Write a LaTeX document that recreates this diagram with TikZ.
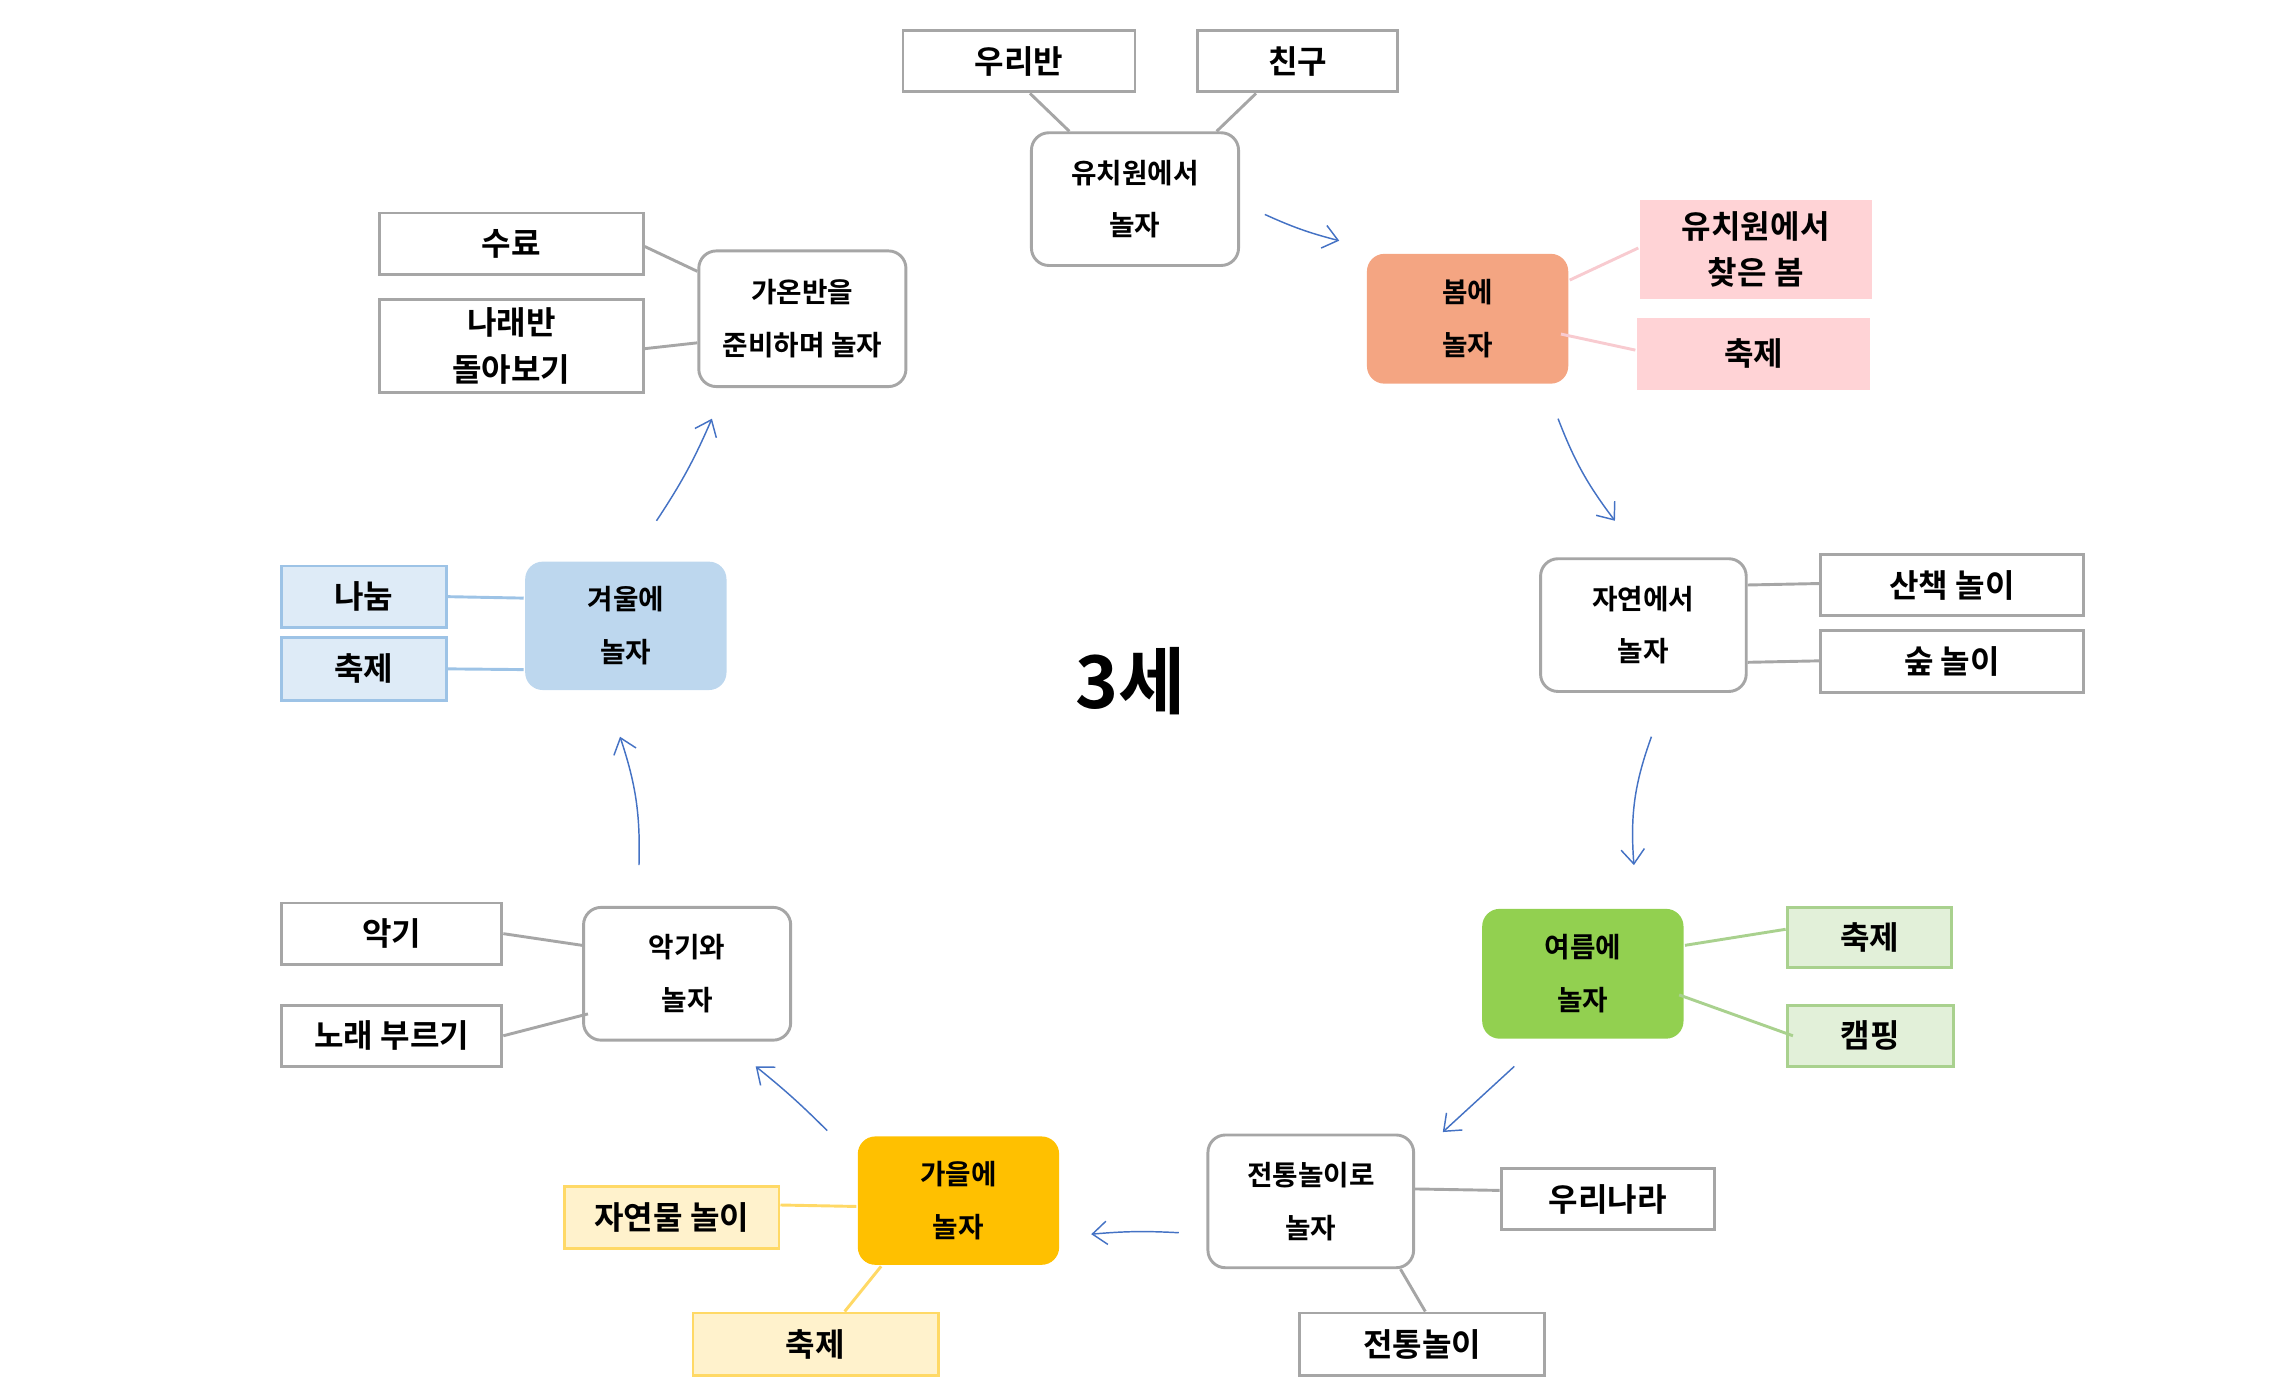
\documentclass[tikz,border=0pt]{standalone}
\usepackage{fontspec}
\setmainfont{Noto Sans CJK KR}[BoldFont={Noto Sans CJK KR Bold}]
\usetikzlibrary{arrows.meta,calc}
\definecolor{grayc}{HTML}{A6A6A6}
\definecolor{salmon}{HTML}{F4A582}
\definecolor{pinkf}{HTML}{FFD3D6}
\definecolor{pinkl}{HTML}{F8CBD0}
\definecolor{bluen}{HTML}{BDD7EE}
\definecolor{bluef}{HTML}{DEEBF7}
\definecolor{bluel}{HTML}{9DC3E6}
\definecolor{greenn}{HTML}{92D050}
\definecolor{greenf}{HTML}{E2F0D9}
\definecolor{greenl}{HTML}{A9D18E}
\definecolor{yelln}{HTML}{FFC000}
\definecolor{yellf}{HTML}{FFF2CC}
\definecolor{yelll}{HTML}{FFD966}
\definecolor{arrc}{HTML}{4472C4}
\tikzset{
  leaf/.style={draw=grayc, line width=1pt, fill=white, inner sep=0pt, align=center,
    font=\bfseries\fontsize{11}{16}\selectfont},
  pinkleaf/.style={leaf, draw=none, fill=pinkf},
  blueleaf/.style={leaf, draw=bluel, fill=bluef},
  greenleaf/.style={leaf, draw=greenl, fill=greenf},
  yellleaf/.style={leaf, draw=yelll, fill=yellf},
  hub/.style={draw=grayc, line width=1pt, fill=white, rounded corners=6pt, inner sep=0pt,
    align=center, font=\bfseries\fontsize{9.5}{18}\selectfont},
  colhub/.style={hub, draw=none, fill=#1},
  link/.style={draw=grayc, line width=1pt},
  clink/.style={draw=#1, line width=1pt},
  flow/.style={draw=arrc, line width=0.5pt, -{Straight Barb[length=5pt,width=8pt]}},
}
\begin{document}
\begin{tikzpicture}[x=0.5pt,y=-0.5pt]
\useasboundingbox (0,0) rectangle (1567,956);
% leaves
\node[leaf, minimum width=79.5pt, minimum height=21pt] (woori) at (698.5,42) {우리반};
\node[leaf, minimum width=68.5pt, minimum height=21pt] (chingu) at (889.5,42) {친구};
\node[leaf, minimum width=90.5pt, minimum height=21pt] (suryo) at (350.5,167) {수료};
\node[leaf, minimum width=90.5pt, minimum height=32pt] (narae) at (350.5,237) {나래반\\돌아보기};
\node[leaf, minimum width=90pt, minimum height=21pt] (sanchaek) at (1338,401) {산책 놀이};
\node[leaf, minimum width=90pt, minimum height=21.5pt] (sup) at (1338,453.5) {숲 놀이};
\node[leaf, minimum width=75.5pt, minimum height=21pt] (akgi) at (268.5,640) {악기};
\node[leaf, minimum width=75.5pt, minimum height=21pt] (norae) at (268.5,710) {노래 부르기};
\node[leaf, minimum width=73pt, minimum height=21pt] (urinara) at (1102,822) {우리나라};
\node[leaf, minimum width=84pt, minimum height=21.5pt] (jeontong) at (975,921.5) {전통놀이};
\node[pinkleaf, minimum width=79.5pt, minimum height=34pt] (pinkA) at (1203.5,171) {유치원에서\\찾은 봄};
\node[pinkleaf, minimum width=80pt, minimum height=24.5pt] (pinkB) at (1202,242.5) {축제};
\node[blueleaf, minimum width=56.5pt, minimum height=21pt] (nanum) at (249.5,409) {나눔};
\node[blueleaf, minimum width=56.5pt, minimum height=21.5pt] (bfest) at (249.5,458.5) {축제};
\node[greenleaf, minimum width=56.5pt, minimum height=20.5pt] (gfest) at (1281.5,642.5) {축제};
\node[greenleaf, minimum width=57pt, minimum height=21pt] (camp) at (1282,710) {캠핑};
\node[yellleaf, minimum width=73.5pt, minimum height=21.5pt] (jayeon) at (460.5,834.5) {자연물 놀이};
\node[yellleaf, minimum width=84pt, minimum height=21.5pt] (yfest) at (559,921.5) {축제};
% hubs
\node[hub, minimum width=71pt, minimum height=45.5pt] (yuchi) at (778,136.5) {유치원에서\\놀자};
\node[colhub=salmon, minimum width=69pt, minimum height=44.5pt] (bom) at (1006,218.5) {봄에\\놀자};
\node[hub, minimum width=71pt, minimum height=46.5pt] (gaon) at (550,218.5) {가온반을\\준비하며 놀자};
\node[hub, minimum width=70.5pt, minimum height=45.5pt] (jayeonN) at (1126.5,428.5) {자연에서\\놀자};
\node[colhub=bluen, minimum width=69pt, minimum height=44pt] (winter) at (429,429) {겨울에\\놀자};
\node[colhub=greenn, minimum width=69pt, minimum height=44.5pt] (summer) at (1085,667.5) {여름에\\놀자};
\node[hub, minimum width=71pt, minimum height=45.5pt] (akgiN) at (471,667.5) {악기와\\놀자};
\node[hub, minimum width=70.5pt, minimum height=45.5pt] (trad) at (898.5,823.5) {전통놀이로\\놀자};
\node[colhub=yelln, minimum width=69pt, minimum height=44pt] (autumn) at (657,823) {가을에\\놀자};
\node[font=\bfseries\fontsize{25}{30}\selectfont] (title) at (775,467) {3세};
% grey links
\draw[link] ($(woori.south)+(7.5,0)$) -- ($(yuchi.north)+(-45,0)$);
\draw[link] ($(chingu.south)+(-28.5,0)$) -- ($(yuchi.north)+(56,0)$);
\draw[link] ($(suryo.east)+(0,2)$) -- ($(gaon.west)+(0,-32.5)$);
\draw[link] ($(narae.east)+(0,2)$) -- ($(gaon.west)+(0,16.5)$);
\draw[link] ($(jayeonN.east)+(0,-27.5)$) -- ($(sanchaek.west)+(0,-1)$);
\draw[link] ($(jayeonN.east)+(0,25.5)$) -- ($(sup.west)+(0,-0.5)$);
\draw[link] (akgi.east) -- ($(akgiN.west)+(0,-19.5)$);
\draw[link] (norae.east) -- ($(akgiN.west)+(4,27.5)$);
\draw[link] ($(trad.east)+(0,-8.5)$) -- ($(urinara.west)+(0,-6)$);
\draw[link] ($(trad.south)+(61.5,0)$) -- ($(jeontong.north)+(2,0)$);
% coloured links
\draw[clink=pinkl] ($(bom.east)+(0,-26.5)$) -- ($(pinkA.west)+(0,-1)$);
\draw[clink=pinkl] ($(bom.east)+(-6,10.5)$) -- ($(pinkB.west)+(0,-2.5)$);
\draw[clink=bluel] ($(winter.west)+(0,-19)$) -- (nanum.east);
\draw[clink=bluel] ($(winter.west)+(0,30)$) -- (bfest.east);
\draw[clink=greenl] ($(summer.east)+(0,-19.5)$) -- ($(gfest.west)+(0,-5.5)$);
\draw[clink=greenl] ($(summer.east)+(-4,14.5)$) -- ($(camp.west)+(5,0)$);
\draw[clink=yelll] ($(autumn.west)+(0,4)$) -- ($(jayeon.east)+(0,-8.5)$);
\draw[clink=yelll] ($(autumn.south)+(-53,0)$) -- ($(yfest.north)+(20,0)$);
% flow arrows
\coordinate (a1s) at (867,147); \coordinate (a1e) at (918,165);
\coordinate (a2s) at (1068,287); \coordinate (a2e) at (1107,357);
\coordinate (a3s) at (1132,505); \coordinate (a3e) at (1120,593);
\coordinate (a4s) at (1038,731); \coordinate (a4e) at (989,776);
\coordinate (a5s) at (808,845); \coordinate (a5e) at (748,846);
\coordinate (a6s) at (567,775); \coordinate (a6e) at (518,731);
\coordinate (a7s) at (438,593); \coordinate (a7e) at (425,505);
\coordinate (a8s) at (450,357); \coordinate (a8e) at (488,287);
\draw[flow] (a1s) to[bend right=5] (a1e);
\draw[flow] (a2s) to[bend right=8] (a2e);
\draw[flow] (a3s) to[bend right=12] (a3e);
\draw[flow] (a4s) -- (a4e);
\draw[flow] (a5s) to[bend right=4] (a5e);
\draw[flow] (a6s) to[bend right=3] (a6e);
\draw[flow] (a7s) to[bend right=10] (a7e);
\draw[flow] (a8s) to[bend right=5] (a8e);
\end{tikzpicture}
\end{document}
